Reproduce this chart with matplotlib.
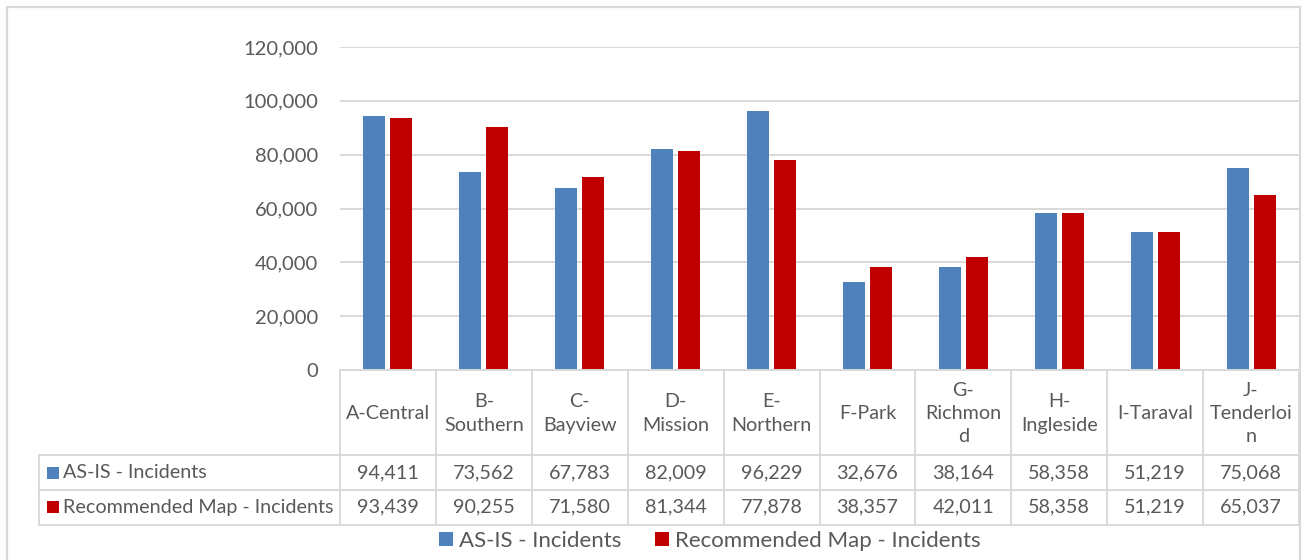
import matplotlib
matplotlib.use('Agg')
import matplotlib.pyplot as plt
from matplotlib.transforms import blended_transform_factory
from matplotlib.patches import Rectangle
from matplotlib.lines import Line2D

# ---- data ----
categories = ["A-Central", "B-Southern", "C-Bayview", "D-Mission", "E-Northern",
              "F-Park", "G-Richmond", "H-Ingleside", "I-Taraval", "J-Tenderloin"]
header_labels = ["A-Central", "B-\nSouthern", "C-\nBayview", "D-\nMission", "E-\nNorthern",
                 "F-Park", "G-\nRichmon\nd", "H-\nIngleside", "I-Taraval", "J-\nTenderloi\nn"]
as_is = [94411, 73562, 67783, 82009, 96229, 32676, 38164, 58358, 51219, 75068]
recommended = [93439, 90255, 71580, 81344, 77878, 38357, 42011, 58358, 51219, 65037]
series_names = ["AS-IS - Incidents", "Recommended Map - Incidents"]
series_colors = ["#4F81BD", "#C00000"]
y_ticks = [0, 20000, 40000, 60000, 80000, 100000, 120000]

# ---- layout ----
W, H = 1305, 560
plt.rcParams['font.family'] = ['Lato', 'DejaVu Sans']
TXT = "#595959"
GRID = "#D9D9D9"

fig = plt.figure(figsize=(W / 100, H / 100), dpi=100)

def fx(px):
    return px / W

def fy(py):
    return 1 - py / H

x0, x1, ytop, ybot = 340, 1299, 47, 370
ax = fig.add_axes([fx(x0), fy(ybot), fx(x1) - fx(x0), fy(ytop) - fy(ybot)])
n = len(categories)
ax.set_xlim(0, n)
ax.set_ylim(0, 120000)

unit = (x1 - x0) / n
bw = 22 / unit
off = 13.5 / unit
xs = [i + 0.5 for i in range(n)]
b1 = ax.bar([x - off for x in xs], as_is, width=bw, color=series_colors[0], zorder=3,
            label=series_names[0])
b2 = ax.bar([x + off for x in xs], recommended, width=bw, color=series_colors[1], zorder=3,
            label=series_names[1])

ax.set_yticks(y_ticks)
ax.set_yticklabels([f"{v:,}" for v in y_ticks], fontsize=14.5, color=TXT)
ax.tick_params(axis='y', length=0, pad=15.5)
ax.set_xticks([])
ax.yaxis.grid(True, color=GRID, lw=1.4, zorder=0)
for s in ax.spines.values():
    s.set_visible(False)

# ---- data table ----
tr = blended_transform_factory(ax.transData, fig.transFigure)
lw = 1.4
FS = 14.2
for k in range(n + 1):
    fig.add_artist(Line2D([k, k], [fy(370), fy(525)], transform=tr, color=GRID, lw=lw))
fig.add_artist(Line2D([fx(39), fx(39)], [fy(455), fy(525)], transform=fig.transFigure, color=GRID, lw=lw))
fig.add_artist(Line2D([fx(x0), fx(x1)], [fy(370), fy(370)], transform=fig.transFigure, color=GRID, lw=lw))
for yy in (455, 490, 525):
    fig.add_artist(Line2D([fx(39), fx(x1)], [fy(yy), fy(yy)], transform=fig.transFigure, color=GRID, lw=lw))

for i, lab in enumerate(header_labels):
    fig.text(xs[i], fy(413.5), lab, transform=tr, ha='center', va='center', fontsize=FS,
             color=TXT, linespacing=1.45)

row_y = [473, 507]
for r, vals in enumerate([as_is, recommended]):
    fig.add_artist(Rectangle((fx(47), fy(row_y[r] + 6)), fx(12), 12 / H,
                             transform=fig.transFigure, color=series_colors[r], lw=0))
    fig.text(fx(63), fy(row_y[r]), series_names[r], ha='left', va='center', fontsize=FS, color=TXT)
    for i, v in enumerate(vals):
        fig.text(xs[i], fy(row_y[r]), f"{v:,}", transform=tr, ha='center', va='center',
                 fontsize=FS, color=TXT)

# legend
leg = fig.legend(handles=[b1, b2], loc='center', bbox_to_anchor=(fx(710), fy(541)), ncol=2,
                 frameon=False, fontsize=16, handlelength=0.62, handleheight=0.62,
                 handletextpad=0.3, columnspacing=1.5, borderpad=0)
for t in leg.get_texts():
    t.set_color(TXT)

# outer chart border
fig.add_artist(Rectangle((fx(7), fy(565)), fx(1300) - fx(7), fy(7) - fy(565),
                         transform=fig.transFigure, fill=False, edgecolor=GRID, lw=1.6))

fig.savefig("out.png", dpi=100)
